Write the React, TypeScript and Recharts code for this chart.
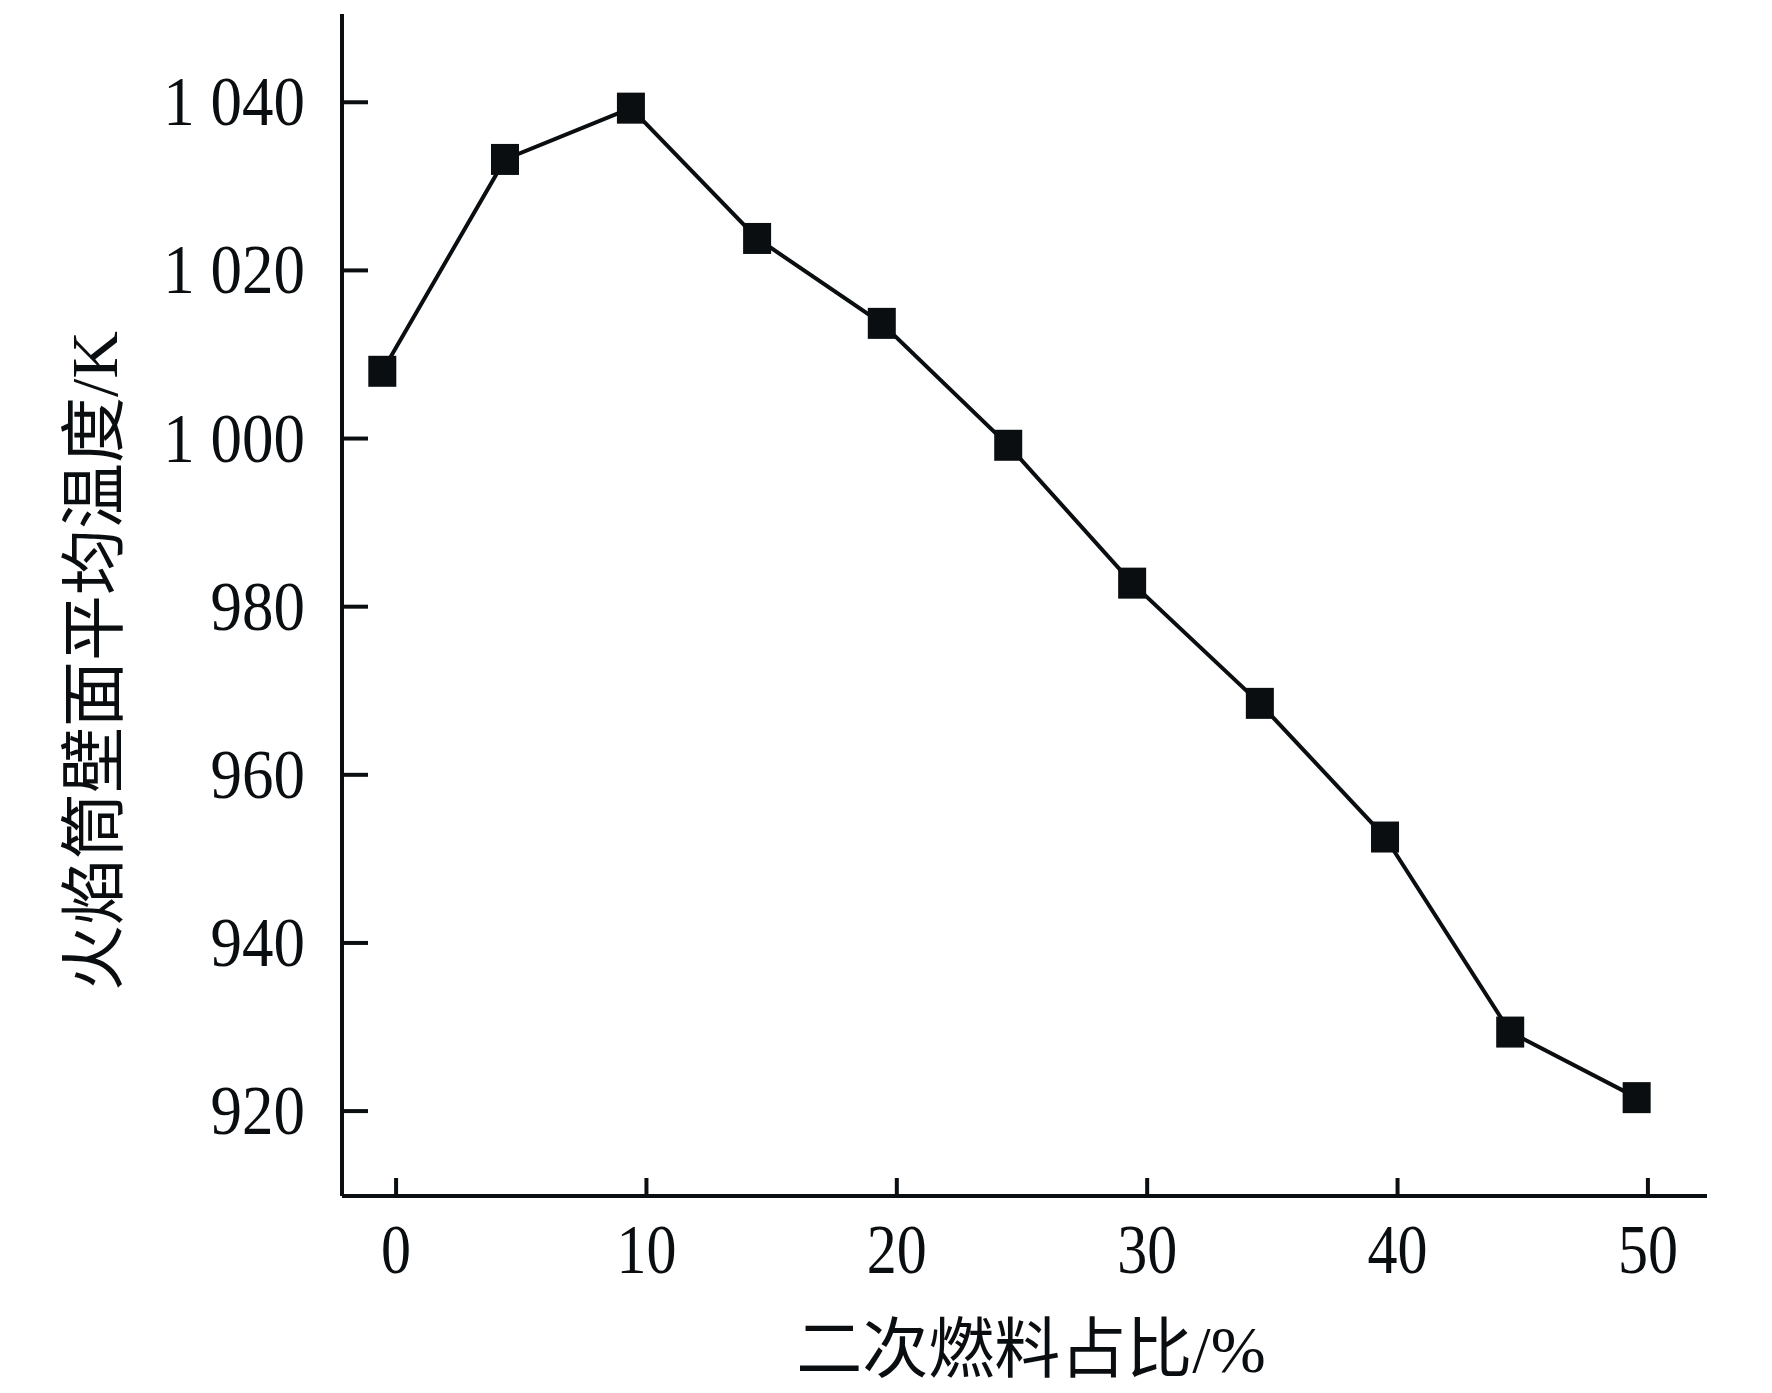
import { LineChart, Line, XAxis, YAxis } from 'recharts';

// 二次燃料占比 (%) 与火焰筒壁面平均温度 (K)
const fuelShare = [-0.55, 4.35, 9.38, 14.42, 19.4, 24.45, 29.4, 34.5, 39.5, 44.5, 49.55];
const wallTemp = [1008.0, 1033.2, 1039.3, 1023.8, 1013.7, 999.2, 982.8, 968.5, 952.6, 929.4, 921.6];

const xTicks = [0, 10, 20, 30, 40, 50];
const yTicks = [920, 940, 960, 980, 1000, 1020, 1040];

const data = fuelShare.map((x, i) => ({ x, t: wallTemp[i] }));

const FONT = '"Liberation Serif", "Times New Roman", "Noto Sans CJK SC", serif';
const INK = '#0a0e10';

const fmtY = (v: number) => (v >= 1000 ? `${Math.floor(v / 1000)} ${String(v % 1000).padStart(3, '0')}` : String(v));

function XTick({ x, y, payload }: any) {
  return (
    <g>
      <line x1={x} y1={y} x2={x} y2={y - 18} stroke={INK} strokeWidth={4} />
      <text
        transform={`translate(${x},${y + 77}) scale(1,1.17)`}
        textAnchor="middle"
        fontFamily={FONT}
        fontSize={60}
        fill={INK}
      >
        {payload.value}
      </text>
    </g>
  );
}

function YTick({ x, y, payload }: any) {
  return (
    <g>
      <line x1={x} y1={y} x2={x + 26} y2={y} stroke={INK} strokeWidth={4} />
      <text
        transform={`translate(${x - 37},${y + 23}) scale(1,1.12)`}
        textAnchor="end"
        fontFamily={FONT}
        fontSize={63}
        fill={INK}
      >
        {fmtY(payload.value)}
      </text>
    </g>
  );
}

function SquareDot({ cx, cy }: any) {
  if (cx == null || cy == null) return null;
  return <rect x={cx - 14} y={cy - 15.5} width={28} height={31} fill={INK} />;
}

export default function App() {
  return (
    <div style={{ position: 'absolute', left: 0, top: 0, width: 1772, height: 1393, background: '#fff' }}>
      <LineChart
        width={1772}
        height={1393}
        data={data}
        margin={{ top: 14, right: 65, bottom: 0, left: 0 }}
      >
        <XAxis
          dataKey="x"
          type="number"
          domain={[-2.16, 52.36]}
          ticks={xTicks}
          allowDataOverflow
          height={197}
          tickSize={0}
          tickMargin={0}
          tickLine={false}
          axisLine={{ stroke: INK, strokeWidth: 4 }}
          tick={<XTick />}
          interval={0}
        />
        <XAxis
          xAxisId="top"
          orientation="top"
          dataKey="x"
          type="number"
          domain={[-2.16, 52.36]}
          height={0}
          tick={false}
          tickLine={false}
          axisLine={{ stroke: INK, strokeWidth: 4 }}
        />
        <YAxis
          type="number"
          domain={[909.9, 1050.5]}
          ticks={yTicks}
          allowDataOverflow
          width={342}
          tickSize={0}
          tickMargin={0}
          tickLine={false}
          axisLine={{ stroke: INK, strokeWidth: 4 }}
          tick={<YTick />}
          interval={0}
        />
        <YAxis
          yAxisId="right"
          orientation="right"
          type="number"
          domain={[909.9, 1050.5]}
          width={0}
          tick={false}
          tickLine={false}
          axisLine={{ stroke: INK, strokeWidth: 4 }}
        />
        <Line
          dataKey="t"
          type="linear"
          stroke={INK}
          strokeWidth={4}
          dot={<SquareDot />}
          activeDot={false}
          isAnimationActive={false}
        />
      </LineChart>
      <div
        style={{
          position: 'absolute',
          left: 95,
          top: 661,
          transform: 'translate(-50%, -50%) rotate(-90deg)',
          whiteSpace: 'nowrap',
          fontFamily: FONT,
          fontSize: 66,
          color: INK,
          lineHeight: 1,
        }}
      >
        火焰筒壁面平均温度/K
      </div>
      <div
        style={{
          position: 'absolute',
          left: 1031,
          top: 1350,
          transform: 'translate(-50%, -50%)',
          whiteSpace: 'nowrap',
          fontFamily: FONT,
          fontSize: 66,
          color: INK,
          lineHeight: 1,
        }}
      >
        二次燃料占比/%
      </div>
    </div>
  );
}
